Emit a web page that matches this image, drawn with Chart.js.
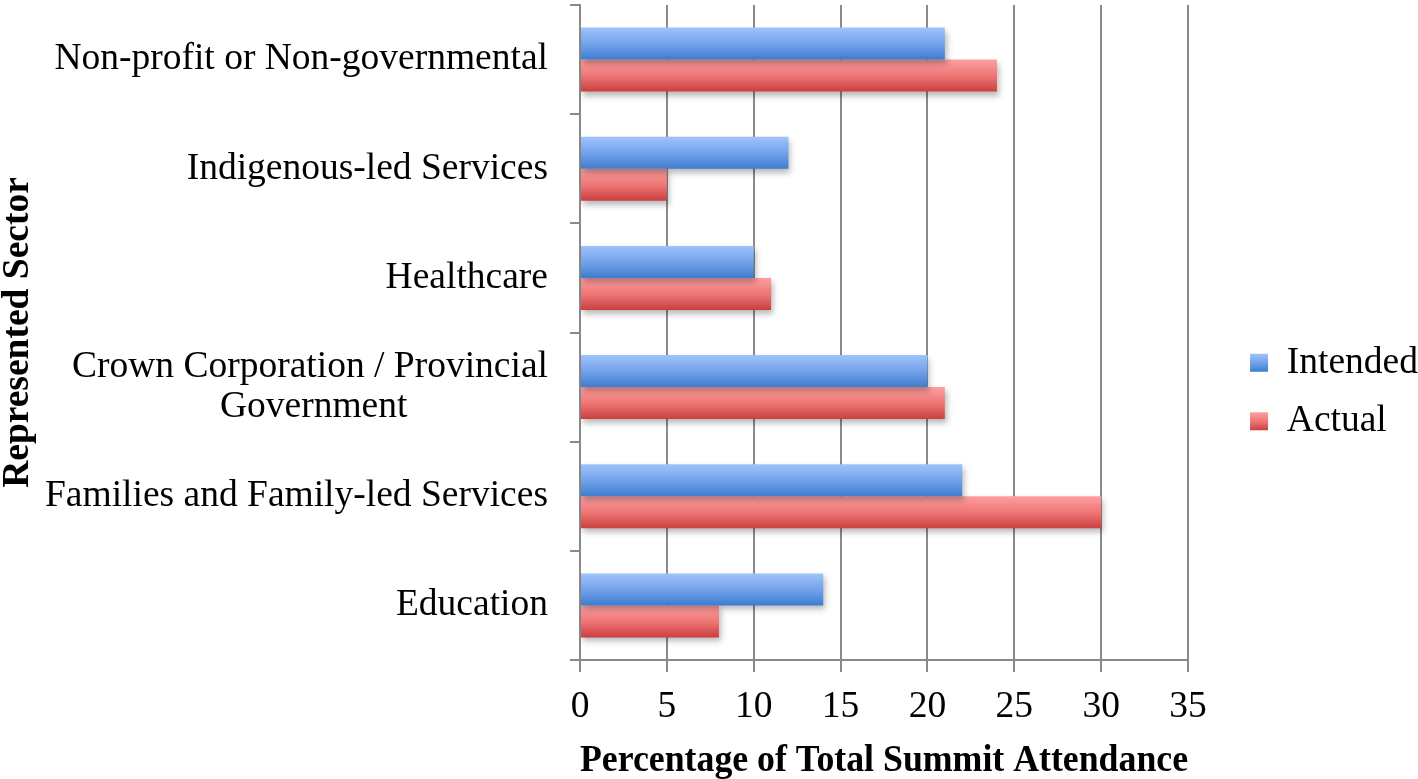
<!DOCTYPE html>
<html>
<head>
<meta charset="utf-8">
<script src="https://cdn.jsdelivr.net/npm/chart.js@4"></script>
<style>
  html, body { margin: 0; padding: 0; background: #ffffff; }
  #wrap { width: 1418px; height: 779px; position: relative; }
</style>
</head>
<body>
<div id="wrap"><canvas id="c" width="1418" height="779"></canvas></div>
<script>
const categories = [
  "Non-profit or Non-governmental",
  "Indigenous-led Services",
  "Healthcare",
  ["Crown Corporation / Provincial", "Government"],
  "Families and Family-led Services",
  "Education"
];
const seriesNames = ["Intended", "Actual"];
const intendedValues = [21, 12, 10, 20, 22, 14];
const actualValues = [24, 5, 11, 21, 30, 8];
const xTicks = { min: 0, max: 35, step: 5 };
const xTitle = "Percentage of Total Summit Attendance";
const yTitle = "Represented Sector";

const FONT = "'Liberation Serif', 'Times New Roman', serif";
const FS = 37.5;
const GRID = "#8a8a8a";
const BLUE = ["#9fc3fb", "#6f9fe8", "#3d7ccf"];
const RED = ["#ff9f9f", "#ec7272", "#cb3e3e"];
const BAR = 32;

function grad(ctx, top, bottom, cols) {
  const g = ctx.createLinearGradient(0, top, 0, bottom);
  g.addColorStop(0, cols[0]);
  g.addColorStop(0.55, cols[1]);
  g.addColorStop(1, cols[2]);
  return g;
}

function barFill(cols) {
  return function (c) {
    const chart = c.chart;
    const ys = chart.scales && chart.scales.y;
    if (!ys || c.dataIndex === undefined || !chart.chartArea) return cols[1];
    const centre = ys.getPixelForValue(c.dataIndex);
    const top = centre + (c.datasetIndex - 1) * BAR;
    return grad(chart.ctx, top, top + BAR, cols);
  };
}

const measureCtx = document.createElement('canvas').getContext('2d');
measureCtx.font = FS + "px " + FONT;
function centreLines(lbl) {
  if (!Array.isArray(lbl)) return lbl;
  const widths = lbl.map(s => measureCtx.measureText(s).width);
  const maxW = Math.max(...widths);
  const sp = measureCtx.measureText('\u00A0').width;
  return lbl.map((s, i) => s + '\u00A0'.repeat(Math.round((maxW - widths[i]) / 2 / sp)));
}

const shadowPlugin = {
  id: 'barShadow',
  beforeDatasetsDraw(chart) {
    const ctx = chart.ctx;
    ctx.save();
    ctx.shadowColor = 'rgba(0,0,0,0.28)';
    ctx.shadowBlur = 6;
    ctx.shadowOffsetX = 2;
    ctx.shadowOffsetY = 4;
  },
  afterDatasetsDraw(chart) {
    chart.ctx.restore();
  },
  beforeDraw(chart) {
    const lg = chart.legend;
    if (!lg || !lg.legendHitBoxes) return;
    const sets = [BLUE, RED];
    lg.legendItems.forEach((it, i) => {
      const hb = lg.legendHitBoxes[i];
      if (!hb) return;
      const mid = hb.top + hb.height / 2;
      it.fillStyle = grad(chart.ctx, mid - 9, mid + 9, sets[i]);
    });
  }
};

new Chart(document.getElementById('c'), {
  type: 'bar',
  data: {
    labels: categories,
    datasets: [
      { label: seriesNames[0], data: intendedValues, backgroundColor: barFill(BLUE), borderWidth: 0 },
      { label: seriesNames[1], data: actualValues, backgroundColor: barFill(RED), borderWidth: 0 }
    ]
  },
  options: {
    indexAxis: 'y',
    responsive: false,
    animation: false,
    devicePixelRatio: 1,
    categoryPercentage: 0.586,
    barPercentage: 1,
    layout: { padding: { top: 5, right: -10, bottom: 0, left: 0 } },
    plugins: {
      tooltip: { enabled: false },
      legend: {
        position: 'right',
        labels: {
          font: { family: FONT, size: FS },
          color: '#000',
          boxWidth: 18,
          boxHeight: 18,
          padding: 21
        }
      }
    },
    scales: {
      x: {
        type: 'linear',
        min: xTicks.min,
        max: xTicks.max,
        ticks: {
          stepSize: xTicks.step,
          font: { family: FONT, size: FS },
          color: '#000',
          padding: 13
        },
        grid: { color: GRID, lineWidth: 2, tickLength: 12, tickColor: GRID },
        border: { color: GRID, width: 2 },
        title: {
          display: true,
          text: xTitle,
          font: { family: FONT, size: FS, weight: 'bold', lineHeight: 0.92 },
          color: '#000',
          padding: { top: 0, bottom: 0 }
        },
        afterFit(s) { s.height = 119; s.paddingLeft = 0; s.paddingRight = 0; }
      },
      y: {
        type: 'category',
        ticks: {
          font: { family: FONT, size: FS, lineHeight: 1.07 },
          color: '#000',
          padding: 22,
          callback: function (v, i) { return centreLines(categories[i]); }
        },
        grid: { drawOnChartArea: false, color: GRID, lineWidth: 2, tickLength: 10, tickColor: GRID, offset: true },
        border: { color: GRID, width: 2 },
        title: {
          display: true,
          text: yTitle,
          font: { family: FONT, size: FS, weight: 'bold', lineHeight: 1 },
          color: '#000',
          padding: { top: 0, bottom: 0 }
        },
        afterFit(s) { s.width = 580; s.paddingTop = 0; s.paddingBottom = 0; }
      },
      gap: {
        type: 'linear',
        position: 'right',
        axis: 'y',
        display: true,
        ticks: { display: false },
        grid: { display: false },
        border: { display: false },
        afterFit(s) { s.width = 41; s.paddingTop = 0; s.paddingBottom = 0; }
      }
    }
  },
  plugins: [shadowPlugin]
});
</script>
</body>
</html>
